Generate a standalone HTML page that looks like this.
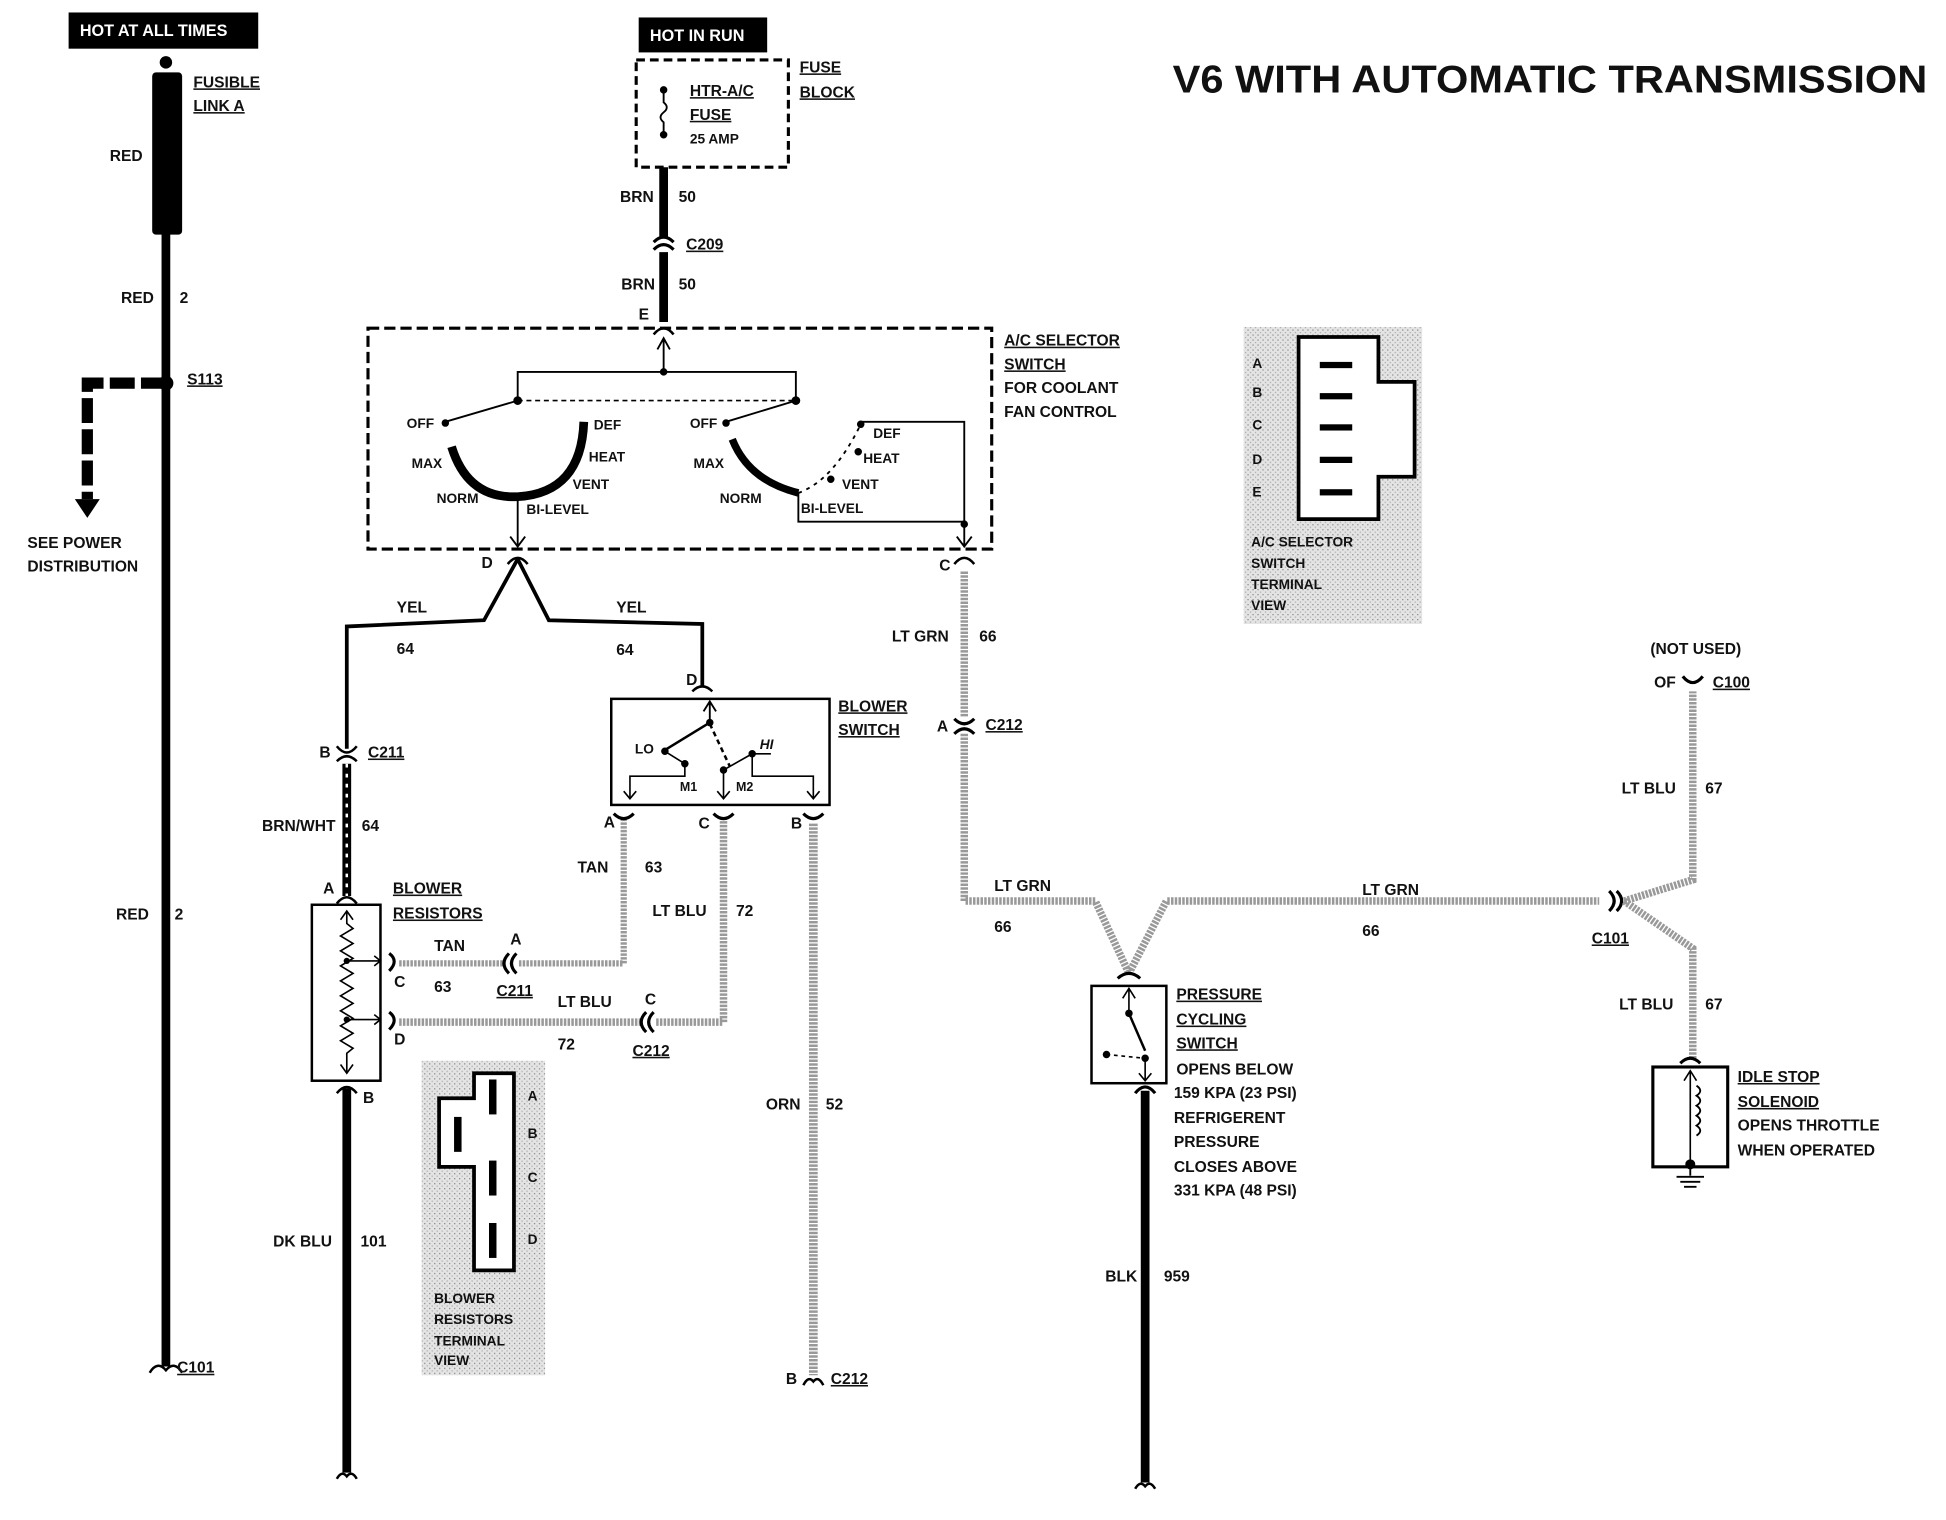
<!DOCTYPE html>
<html><head><meta charset="utf-8"><style>
html,body{margin:0;padding:0;background:#fff}
svg{display:block}
text{font-family:"Liberation Sans",sans-serif;font-weight:bold;font-size:12.5px;fill:#111}
.u{text-decoration:underline}
</style></head><body>
<svg width="1946" height="1520" viewBox="0 0 1560 1218" preserveAspectRatio="none" xmlns="http://www.w3.org/2000/svg">
<defs>
<pattern id="st" width="4" height="4" patternUnits="userSpaceOnUse"><rect width="4" height="4" fill="#e4e4e4"/><rect width="1" height="1" fill="#888"/><rect x="2" y="2" width="1" height="1" fill="#aaa"/></pattern>
</defs>
<rect width="1560" height="1218" fill="#fff"/>
<!-- title -->
<text x="940" y="74" style="font-size:31px" textLength="605" lengthAdjust="spacingAndGlyphs">V6 WITH AUTOMATIC TRANSMISSION</text>

<!-- HOT AT ALL TIMES -->
<rect x="55" y="10" width="152" height="29" fill="#000"/>
<text x="64" y="29" style="fill:#fff;font-size:13px">HOT AT ALL TIMES</text>
<circle cx="133" cy="50" r="5" fill="#000"/>
<rect x="122" y="58" width="24" height="130" rx="3" fill="#000"/>
<text x="155" y="70" class="u">FUSIBLE</text><text x="155" y="89" class="u">LINK A</text>
<text x="88" y="129">RED</text>
<line x1="133" y1="186" x2="133" y2="1095" stroke="#000" stroke-width="7"/>
<text x="97" y="243">RED</text><text x="144" y="243">2</text>
<circle cx="133" cy="307" r="6" fill="#000"/>
<text x="150" y="308" class="u">S113</text>
<path d="M133,307 H70 V400" fill="none" stroke="#000" stroke-width="9" stroke-dasharray="20,5"/>
<path d="M60,400 L70,415 L80,400 Z" fill="#000"/>
<text x="22" y="439">SEE POWER</text><text x="22" y="458">DISTRIBUTION</text>
<text x="93" y="737">RED</text><text x="140" y="737">2</text>
<path d="M120,1100 Q126,1090 133,1098 Q140,1090 146,1100" fill="none" stroke="#000" stroke-width="2"/>
<text x="142" y="1100" class="u">C101</text>

<!-- HOT IN RUN / fuse block -->
<rect x="512" y="14" width="103" height="28" fill="#000"/>
<text x="521" y="33" style="fill:#fff;font-size:13px">HOT IN RUN</text>
<rect x="510" y="48" width="122" height="86" fill="none" stroke="#000" stroke-width="2.5" stroke-dasharray="7,4"/>
<text x="641" y="58" class="u">FUSE</text><text x="641" y="78" class="u">BLOCK</text>
<circle cx="532" cy="72" r="3" fill="#000"/><circle cx="532" cy="108" r="3" fill="#000"/>
<path d="M532,72 V82 q5,4 0,8 q-5,4 0,8 V108" fill="none" stroke="#000" stroke-width="1.5"/>
<text x="553" y="77" class="u">HTR-A/C</text><text x="553" y="96" class="u">FUSE</text>
<text x="553" y="115" style="font-size:11px">25 AMP</text>
<line x1="532" y1="134" x2="532" y2="190" stroke="#000" stroke-width="7"/>
<line x1="532" y1="202" x2="532" y2="258" stroke="#000" stroke-width="7"/>
<path d="M524,194 Q532,186 540,194" fill="none" stroke="#000" stroke-width="2.5"/>
<path d="M524,200 Q532,192 540,200" fill="none" stroke="#000" stroke-width="2.5"/>
<text x="497" y="162">BRN</text><text x="544" y="162">50</text>
<text x="550" y="200" class="u">C209</text>
<text x="498" y="232">BRN</text><text x="544" y="232">50</text>
<text x="512" y="256">E</text>
<path d="M524,268 Q532,258 540,268" fill="none" stroke="#000" stroke-width="2"/>

<!-- A/C selector switch -->
<rect x="295" y="263" width="500" height="177" fill="none" stroke="#000" stroke-width="2.5" stroke-dasharray="9,4"/>
<text x="805" y="277" class="u">A/C SELECTOR</text><text x="805" y="296" class="u">SWITCH</text>
<text x="805" y="315">FOR COOLANT</text><text x="805" y="334">FAN CONTROL</text>
<path d="M527,280 L532,271 L537,280 M532,271 V298" fill="none" stroke="#000" stroke-width="1.5"/>
<circle cx="532" cy="298" r="3" fill="#000"/>
<path d="M415,320 V298 H638 V320" fill="none" stroke="#000" stroke-width="1.5"/>
<circle cx="415" cy="321" r="3.5" fill="#000"/><circle cx="638" cy="321" r="3.5" fill="#000"/>
<line x1="415" y1="321" x2="638" y2="321" stroke="#000" stroke-width="1.3" stroke-dasharray="4,3"/>
<line x1="415" y1="321" x2="357" y2="338" stroke="#000" stroke-width="1.5"/>
<circle cx="357" cy="339" r="3" fill="#000"/>
<path d="M362,358 Q375,400 415,398 Q466,395 468,338" fill="none" stroke="#000" stroke-width="7"/>
<text x="326" y="343" style="font-size:11px">OFF</text><text x="476" y="344" style="font-size:11px">DEF</text>
<text x="330" y="375" style="font-size:11px">MAX</text><text x="472" y="370" style="font-size:11px">HEAT</text>
<text x="459" y="392" style="font-size:11px">VENT</text><text x="350" y="403" style="font-size:11px">NORM</text>
<text x="422" y="412" style="font-size:11px">BI-LEVEL</text>
<line x1="415" y1="398" x2="415" y2="438" stroke="#000" stroke-width="1.5"/>
<path d="M409,430 L415,438 L421,430" fill="none" stroke="#000" stroke-width="1.5"/>
<line x1="638" y1="321" x2="582" y2="338" stroke="#000" stroke-width="1.5"/>
<circle cx="582" cy="339" r="3" fill="#000"/>
<path d="M587,352 Q600,385 640,395" fill="none" stroke="#000" stroke-width="6"/>
<path d="M640,395 Q668,385 690,340" fill="none" stroke="#000" stroke-width="1.5" stroke-dasharray="3,4"/>
<circle cx="690" cy="340" r="3" fill="#000"/><circle cx="688" cy="362" r="3" fill="#000"/><circle cx="666" cy="384" r="3" fill="#000"/>
<path d="M640,395 V418 H773 V338 H690" fill="none" stroke="#000" stroke-width="1.5"/>
<circle cx="773" cy="420" r="3" fill="#000"/>
<path d="M773,420 V438 M767,430 L773,438 L779,430" fill="none" stroke="#000" stroke-width="1.5"/>
<text x="553" y="343" style="font-size:11px">OFF</text><text x="556" y="375" style="font-size:11px">MAX</text>
<text x="577" y="403" style="font-size:11px">NORM</text><text x="642" y="411" style="font-size:11px">BI-LEVEL</text>
<text x="700" y="351" style="font-size:11px">DEF</text><text x="692" y="371" style="font-size:11px">HEAT</text>
<text x="675" y="392" style="font-size:11px">VENT</text>
<path d="M407,452 Q415,442 423,452" fill="none" stroke="#000" stroke-width="2"/>
<text x="386" y="455">D</text>
<path d="M765,452 Q773,442 781,452" fill="none" stroke="#000" stroke-width="2"/>
<text x="753" y="457">C</text>

<!-- YEL wires -->
<path d="M415,448 L388,497 L278,502 V600" fill="none" stroke="#000" stroke-width="3"/>
<path d="M415,448 L440,497 L563,500 V550" fill="none" stroke="#000" stroke-width="3"/>
<text x="318" y="491">YEL</text><text x="494" y="491">YEL</text>
<text x="318" y="524">64</text><text x="494" y="525">64</text>
<text x="550" y="549">D</text>
<path d="M555,554 Q563,546 571,554" fill="none" stroke="#000" stroke-width="2"/>
<text x="256" y="607">B</text><text x="295" y="607" class="u">C211</text>
<path d="M270,598 Q278,608 286,598 M270,610 Q278,602 286,610" fill="none" stroke="#000" stroke-width="2"/>
<line x1="278" y1="612" x2="278" y2="718" stroke="#000" stroke-width="7"/>
<line x1="278" y1="612" x2="278" y2="718" stroke="#fff" stroke-width="2" stroke-dasharray="3,5"/>
<text x="210" y="666">BRN/WHT</text><text x="290" y="666">64</text>
<text x="259" y="716">A</text>
<path d="M270,724 Q278,714 286,724" fill="none" stroke="#000" stroke-width="2"/>

<!-- blower resistors -->
<rect x="250" y="725" width="55" height="141" fill="none" stroke="#000" stroke-width="2"/>
<path d="M278,730 V740 l5,4 -10,6 10,6 -10,6 10,6 -10,6 10,6 -10,6 10,6 -10,6 10,6 -10,6 10,6 -10,6 10,6 -10,6 10,6 -5,4 V860" fill="none" stroke="#000" stroke-width="1.3"/>
<path d="M273,737 L278,730 L283,737 M273,853 L278,860 L283,853" fill="none" stroke="#000" stroke-width="1.3"/>
<circle cx="278" cy="770" r="2.5" fill="#000"/><circle cx="278" cy="817" r="2.5" fill="#000"/>
<path d="M278,770 H305 M300,766 L305,770 300,774 M278,817 H305 M300,813 L305,817 300,821" fill="none" stroke="#000" stroke-width="1.3"/>
<text x="315" y="716" class="u">BLOWER</text><text x="315" y="736" class="u">RESISTORS</text>
<path d="M312,764 Q320,770 312,778 M312,811 Q320,817 312,825" fill="none" stroke="#000" stroke-width="2.5"/>
<text x="316" y="791">C</text><text x="316" y="837">D</text>
<path d="M270,876 Q278,866 286,876" fill="none" stroke="#000" stroke-width="2"/>
<text x="291" y="884">B</text>
<line x1="278" y1="872" x2="278" y2="1180" stroke="#000" stroke-width="7"/>
<path d="M270,1185 Q274,1178 278,1183 Q282,1178 286,1185" fill="none" stroke="#000" stroke-width="2"/>
<text x="219" y="999">DK BLU</text><text x="289" y="999">101</text>

<!-- TAN 63 / LT BLU 72 -->
<path d="M320,772 H404 M416,772 H500 V655" fill="none" stroke="#999" stroke-width="5" stroke-dasharray="2,1"/>
<path d="M408,764 Q400,772 408,780 M414,764 Q406,772 414,780" fill="none" stroke="#000" stroke-width="2.5"/>
<text x="348" y="762">TAN</text><text x="348" y="795">63</text><text x="409" y="757">A</text>
<text x="398" y="798" class="u">C211</text>
<path d="M320,819 H514 M526,819 H580 V655" fill="none" stroke="#999" stroke-width="6" stroke-dasharray="2,1"/>
<path d="M518,811 Q510,819 518,827 M524,811 Q516,819 524,827" fill="none" stroke="#000" stroke-width="2.5"/>
<text x="447" y="807">LT BLU</text><text x="447" y="841">72</text><text x="517" y="805">C</text>
<text x="507" y="846" class="u">C212</text>
<text x="463" y="699">TAN</text><text x="517" y="699">63</text>
<text x="523" y="734">LT BLU</text><text x="590" y="734">72</text>

<!-- blower switch -->
<rect x="490" y="560" width="175" height="85" fill="none" stroke="#000" stroke-width="2"/>
<text x="672" y="570" class="u">BLOWER</text><text x="672" y="589" class="u">SWITCH</text>
<path d="M569,562 V578 M564,570 L569,562 574,570" fill="none" stroke="#000" stroke-width="1.5"/>
<circle cx="569" cy="579" r="3" fill="#000"/>
<line x1="569" y1="579" x2="533" y2="601" stroke="#000" stroke-width="2"/>
<circle cx="533" cy="602" r="3" fill="#000"/><circle cx="549" cy="612" r="3" fill="#000"/><circle cx="580" cy="617" r="3" fill="#000"/><circle cx="603" cy="604" r="3" fill="#000"/>
<line x1="569" y1="580" x2="585" y2="614" stroke="#000" stroke-width="2" stroke-dasharray="4,3"/>
<path d="M533,602 L549,612 M505,640 V622 H549 V612 M580,640 V617 M603,604 L580,617 M652,640 V622 H603 V604 M603,604 H618" fill="none" stroke="#000" stroke-width="1.3"/>
<path d="M500,634 L505,640 510,634 M575,634 L580,640 585,634 M647,634 L652,640 657,634" fill="none" stroke="#000" stroke-width="1.3"/>
<text x="509" y="604" style="font-size:11px">LO</text><text x="609" y="600" style="font-size:11px;font-style:italic">HI</text>
<text x="545" y="634" style="font-size:10px">M1</text><text x="590" y="634" style="font-size:10px">M2</text>
<path d="M492,652 Q500,660 508,652 M572,652 Q580,660 588,652 M644,652 Q652,660 660,652" fill="none" stroke="#000" stroke-width="2.5"/>
<text x="484" y="663">A</text><text x="560" y="664">C</text><text x="634" y="664">B</text>
<line x1="652" y1="660" x2="652" y2="1102" stroke="#999" stroke-width="7" stroke-dasharray="2,1"/>
<text x="614" y="889">ORN</text><text x="662" y="889">52</text>
<path d="M644,1110 Q648,1102 652,1107 Q656,1102 660,1110" fill="none" stroke="#000" stroke-width="2"/>
<text x="630" y="1109">B</text><text x="666" y="1109" class="u">C212</text>

<!-- LT GRN 66 -->
<path d="M773,458 V574 M773,588 V722 H878 L905,780 L935,722 H1282" fill="none" stroke="#999" stroke-width="6" stroke-dasharray="2,1"/>
<path d="M765,576 Q773,584 781,576 M765,588 Q773,580 781,588" fill="none" stroke="#000" stroke-width="2.5"/>
<text x="715" y="514">LT GRN</text><text x="785" y="514">66</text>
<text x="751" y="586">A</text><text x="790" y="585" class="u">C212</text>
<text x="797" y="714">LT GRN</text><text x="797" y="747">66</text>
<text x="1092" y="717">LT GRN</text><text x="1092" y="750">66</text>
<path d="M1290,714 Q1298,722 1290,730 M1296,714 Q1304,722 1296,730" fill="none" stroke="#000" stroke-width="2.5"/>
<text x="1276" y="756" class="u">C101</text>
<path d="M1302,722 L1357,705 V554 M1302,722 L1357,760 V848" fill="none" stroke="#999" stroke-width="6" stroke-dasharray="2,1"/>
<text x="1323" y="524">(NOT USED)</text>
<path d="M1349,542 Q1357,552 1365,542" fill="none" stroke="#000" stroke-width="2.5"/>
<text x="1326" y="551">OF</text><text x="1373" y="551" class="u">C100</text>
<text x="1300" y="636">LT BLU</text><text x="1367" y="636">67</text>
<text x="1298" y="809">LT BLU</text><text x="1367" y="809">67</text>

<!-- pressure cycling switch -->
<path d="M896,784 Q905,776 914,784" fill="none" stroke="#000" stroke-width="2.5"/>
<rect x="875" y="790" width="60" height="78" fill="none" stroke="#000" stroke-width="2"/>
<path d="M905,792 V810 M900,800 L905,792 910,800" fill="none" stroke="#000" stroke-width="1.3"/>
<circle cx="905" cy="812" r="3" fill="#000"/><circle cx="887" cy="845" r="3" fill="#000"/><circle cx="918" cy="848" r="3" fill="#000"/>
<line x1="905" y1="812" x2="918" y2="842" stroke="#000" stroke-width="2"/>
<line x1="887" y1="845" x2="918" y2="848" stroke="#000" stroke-width="1.3" stroke-dasharray="3,3"/>
<path d="M918,848 V866 M913,860 L918,866 923,860" fill="none" stroke="#000" stroke-width="1.3"/>
<path d="M910,876 Q918,866 926,876" fill="none" stroke="#000" stroke-width="2.5"/>
<line x1="918" y1="874" x2="918" y2="1188" stroke="#000" stroke-width="7"/>
<path d="M910,1193 Q914,1186 918,1191 Q922,1186 926,1193" fill="none" stroke="#000" stroke-width="2"/>
<text x="886" y="1027">BLK</text><text x="933" y="1027">959</text>
<text x="943" y="801" class="u">PRESSURE</text><text x="943" y="821" class="u">CYCLING</text><text x="943" y="840" class="u">SWITCH</text>
<text x="943" y="861">OPENS BELOW</text><text x="941" y="880">159 KPA (23 PSI)</text>
<text x="941" y="900">REFRIGERENT</text><text x="941" y="919">PRESSURE</text>
<text x="941" y="939">CLOSES ABOVE</text><text x="941" y="958">331 KPA (48 PSI)</text>

<!-- idle stop solenoid -->
<path d="M1347,852 Q1355,844 1363,852" fill="none" stroke="#000" stroke-width="2.5"/>
<rect x="1325" y="855" width="60" height="80" fill="none" stroke="#000" stroke-width="2.5"/>
<path d="M1355,858 V930 M1350,866 L1355,858 1360,866" fill="none" stroke="#000" stroke-width="1.3"/>
<path d="M1360,870 q6,4 0,8 q6,4 0,8 q6,4 0,8 q6,4 0,8 q6,4 0,8" fill="none" stroke="#000" stroke-width="1.5"/>
<circle cx="1355" cy="933" r="4" fill="#000"/>
<path d="M1355,935 V942 M1344,943 H1366 M1347,947 H1363 M1350,951 H1360" stroke="#000" stroke-width="1.5"/>
<text x="1393" y="867" class="u">IDLE STOP</text><text x="1393" y="887" class="u">SOLENOID</text>
<text x="1393" y="906">OPENS THROTTLE</text><text x="1393" y="926">WHEN OPERATED</text>

<!-- connector views -->
<rect x="997" y="262" width="143" height="238" fill="url(#st)"/>
<path d="M1041,270 H1105 V306 H1134 V382 H1105 V416 H1041 Z" fill="#fff" stroke="#000" stroke-width="3"/>
<g fill="#000"><rect x="1058" y="290" width="26" height="5"/><rect x="1058" y="315" width="26" height="5"/><rect x="1058" y="340" width="26" height="5"/><rect x="1058" y="366" width="26" height="5"/><rect x="1058" y="392" width="26" height="5"/></g>
<text x="1004" y="295" style="font-size:11px">A</text><text x="1004" y="318" style="font-size:11px">B</text><text x="1004" y="344" style="font-size:11px">C</text><text x="1004" y="372" style="font-size:11px">D</text><text x="1004" y="398" style="font-size:11px">E</text>
<text x="1003" y="438" style="font-size:11px">A/C SELECTOR</text><text x="1003" y="455" style="font-size:11px">SWITCH</text><text x="1003" y="472" style="font-size:11px">TERMINAL</text><text x="1003" y="489" style="font-size:11px">VIEW</text>
<rect x="338" y="850" width="99" height="252" fill="url(#st)"/>
<path d="M380,860 H412 V1018 H380 V935 H352 V880 H380 Z" fill="#fff" stroke="#000" stroke-width="3"/>
<g fill="#000"><rect x="392" y="865" width="6" height="28"/><rect x="364" y="895" width="6" height="28"/><rect x="392" y="930" width="6" height="28"/><rect x="392" y="980" width="6" height="28"/></g>
<text x="423" y="882" style="font-size:11px">A</text><text x="423" y="912" style="font-size:11px">B</text><text x="423" y="947" style="font-size:11px">C</text><text x="423" y="997" style="font-size:11px">D</text>
<text x="348" y="1044" style="font-size:11px">BLOWER</text><text x="348" y="1061" style="font-size:11px">RESISTORS</text><text x="348" y="1078" style="font-size:11px">TERMINAL</text><text x="348" y="1094" style="font-size:11px">VIEW</text>
</svg>
</body></html>
